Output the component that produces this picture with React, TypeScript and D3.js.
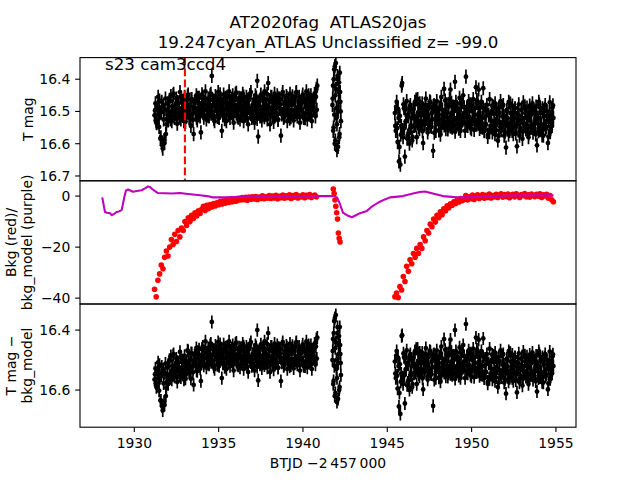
import React from 'react';
import * as d3 from 'd3';

const TITLE_1 = 'AT2020fag  ATLAS20jas';
const TITLE_2 = '19.247cyan_ATLAS Unclassified z= -99.0';
const SECTOR_LABEL = 's23 cam3ccd4';
const X_LABEL = 'BTJD \u22122\u2009457\u2009000';
const X_TICKS = [1930, 1935, 1940, 1945, 1950, 1955];
const TOP_TICKS = [16.4, 16.5, 16.6, 16.7];
const MID_TICKS = [0, -20, -40];
const BOT_TICKS = [16.4, 16.6];
const MARK_T = 1933.0;
const MAG_ERR = 0.022;

// observation windows (start, end) in BTJD; the "2" sets are the interleaved cadences
const SEG_A = [1931.2, 1940.85];
const SEG_A2 = [1931.227, 1940.823];
const SEG_B = [1941.75, 1942.25];
const SEG_B2 = [1941.765, 1942.235];
const SEG_C = [1945.45, 1954.85];
const SEG_C2 = [1945.477, 1954.823];
const BKG_SEG_A = [1931.2, 1940.8];
const BKG_SEG_B = [1941.8, 1942.2];
const BKG_SEG_C = [1945.45, 1954.85];

// T mag, orbit 1
const TOP_A = [
  16.512, 16.475, 16.535, 16.490, 16.455, 16.548, 16.505, 16.580, 16.470, 16.615, 16.525, 16.598, 16.460, 16.540, 16.495, 16.528,
  16.470, 16.515, 16.452, 16.530, 16.485, 16.445, 16.520, 16.498, 16.460, 16.538, 16.478, 16.505, 16.440, 16.525, 16.468, 16.512,
  16.490, 16.455, 16.532, 16.475, 16.500, 16.448, 16.520, 16.482, 16.545, 16.462, 16.508, 16.570, 16.472, 16.495, 16.450, 16.528,
  16.488, 16.458, 16.515, 16.565, 16.478,
  16.455, 16.510, 16.470, 16.438, 16.525, 16.492, 16.460, 16.515, 16.480, 16.445, 16.390, 16.505, 16.468, 16.530, 16.452, 16.498,
  16.475, 16.440, 16.520, 16.485, 16.460, 16.560, 16.495, 16.448, 16.512, 16.470, 16.530, 16.455, 16.490, 16.438, 16.520, 16.478,
  16.505, 16.450, 16.535, 16.465, 16.498, 16.442, 16.515, 16.480,
  16.458, 16.525, 16.470, 16.500, 16.445, 16.530, 16.475, 16.512, 16.455, 16.490, 16.540, 16.462, 16.505, 16.440, 16.520, 16.482,
  16.468, 16.535, 16.450, 16.498,
  16.405, 16.578, 16.472, 16.515, 16.448, 16.528, 16.460, 16.495, 16.438, 16.510, 16.480, 16.525, 16.412, 16.465, 16.540, 16.455,
  16.500, 16.470, 16.532, 16.445,
  16.512, 16.478, 16.450, 16.525, 16.490, 16.462, 16.575, 16.508, 16.440, 16.520, 16.472, 16.495, 16.452, 16.530, 16.468, 16.505,
  16.445, 16.518, 16.480, 16.458,
  16.528, 16.470, 16.500, 16.440, 16.515, 16.485, 16.455, 16.535, 16.475, 16.498, 16.448, 16.520, 16.465, 16.505, 16.438, 16.525,
  16.480, 16.460, 16.510, 16.450,
  16.530, 16.470, 16.495, 16.445, 16.515, 16.430, 16.420,
];
const TOP_A2 = [
  16.497, 16.528, 16.536, 16.488, 16.509, 16.466, 16.585, 16.502, 16.605, 16.483, 16.590, 16.494, 16.570, 16.524, 16.475, 16.514,
  16.464, 16.525, 16.504, 16.484, 16.449, 16.515, 16.492, 16.475, 16.523, 16.471, 16.497, 16.519, 16.456, 16.506, 16.489, 16.466,
  16.530, 16.501, 16.477, 16.511, 16.453, 16.495, 16.516, 16.481, 16.462, 16.507, 16.526, 16.486, 16.470, 16.498, 16.520, 16.458,
  16.503, 16.474, 16.514, 16.491, 16.447,
  16.503, 16.519, 16.478, 16.460, 16.495, 16.513, 16.473, 16.488, 16.450, 16.507, 16.500, 16.464, 16.522, 16.483, 16.456, 16.491,
  16.517, 16.467, 16.505, 16.447, 16.497, 16.480, 16.512, 16.471, 16.524, 16.458, 16.494, 16.475, 16.510, 16.452, 16.501, 16.487,
  16.462, 16.516, 16.477, 16.496, 16.445, 16.506, 16.482, 16.519, 16.468, 16.492, 16.459, 16.513, 16.499, 16.454, 16.485, 16.504,
  16.474, 16.521, 16.463, 16.490, 16.449, 16.508, 16.498, 16.479, 16.515, 16.466, 16.489, 16.457, 16.523, 16.472, 16.502, 16.484,
  16.451, 16.511, 16.495, 16.461, 16.518, 16.476, 16.500, 16.446, 16.507, 16.488, 16.469, 16.514, 16.455, 16.493, 16.520, 16.481,
  16.464, 16.503, 16.473, 16.526, 16.459, 16.491, 16.478, 16.509, 16.448, 16.497, 16.516, 16.470, 16.486, 16.458, 16.505, 16.482,
  16.522, 16.465, 16.496, 16.453, 16.512, 16.475, 16.501, 16.443, 16.507, 16.489, 16.467, 16.518, 16.479, 16.494, 16.456, 16.510,
  16.471, 16.521, 16.485, 16.462, 16.499, 16.450, 16.504, 16.483, 16.513, 16.474, 16.492, 16.460, 16.500, 16.455, 16.495,
];
const TOP_B = [16.48, 16.42, 16.55, 16.37, 16.60, 16.45, 16.35, 16.52, 16.62, 16.40, 16.50, 16.44, 16.58, 16.38, 16.47, 16.53];
const TOP_B2 = [16.46, 16.56, 16.40, 16.51, 16.36, 16.59, 16.43, 16.49, 16.54, 16.39, 16.61, 16.47, 16.41, 16.57, 16.44, 16.50];
// T mag, orbit 2
const TOP_C = [
  16.505, 16.560, 16.470, 16.595, 16.520, 16.610, 16.665, 16.545, 16.412, 16.580, 16.490, 16.640, 16.530, 16.468, 16.575, 16.515,
  16.600, 16.480, 16.550, 16.590,
  16.495, 16.545, 16.470, 16.528, 16.580, 16.462, 16.512, 16.555, 16.485, 16.535, 16.475, 16.598, 16.505, 16.540, 16.460, 16.520,
  16.565, 16.490, 16.530, 16.472,
  16.548, 16.502, 16.622, 16.480, 16.525, 16.560, 16.468, 16.515, 16.540, 16.488, 16.572, 16.455, 16.510, 16.535, 16.430, 16.498,
  16.555, 16.478, 16.520, 16.545,
  16.462, 16.432, 16.505, 16.550, 16.485, 16.528, 16.408, 16.470, 16.540, 16.495, 16.515, 16.458, 16.560, 16.480, 16.525, 16.450,
  16.505, 16.535, 16.392, 16.488,
  16.545, 16.468, 16.518, 16.478, 16.555, 16.500, 16.462, 16.530, 16.490, 16.425, 16.540, 16.475, 16.432, 16.512, 16.548,
  16.470, 16.520, 16.428, 16.555, 16.495, 16.540, 16.480, 16.572, 16.510, 16.462, 16.545, 16.500, 16.565, 16.485, 16.530, 16.475,
  16.558, 16.505, 16.590, 16.490,
  16.535, 16.468, 16.550, 16.515, 16.480, 16.575, 16.528, 16.612, 16.495, 16.545, 16.470, 16.560, 16.505, 16.535, 16.482, 16.570,
  16.520, 16.490, 16.548, 16.608,
  16.512, 16.478, 16.562, 16.530, 16.495, 16.585, 16.472, 16.540, 16.505, 16.555, 16.488, 16.525, 16.568, 16.482, 16.545, 16.510,
  16.475, 16.552, 16.500, 16.538,
  16.485, 16.605, 16.520, 16.470, 16.558, 16.505, 16.540, 16.490, 16.575, 16.515, 16.480, 16.548, 16.500, 16.598, 16.530, 16.472,
  16.555, 16.512, 16.488, 16.520,
];
const TOP_C2 = [
  16.545, 16.485, 16.552, 16.492, 16.655, 16.514, 16.572, 16.420, 16.558, 16.478, 16.551, 16.495, 16.530, 16.584, 16.509, 16.568,
  16.487, 16.543, 16.521, 16.580,
  16.493, 16.520, 16.543, 16.463, 16.535, 16.503, 16.549, 16.475, 16.529, 16.490, 16.561, 16.511, 16.540, 16.481, 16.516, 16.496,
  16.554, 16.530, 16.469, 16.545,
  16.506, 16.523, 16.483, 16.566, 16.500, 16.537, 16.489, 16.510, 16.559, 16.525, 16.477, 16.551, 16.495, 16.519, 16.543, 16.466,
  16.534, 16.504, 16.556, 16.485,
  16.527, 16.547, 16.473, 16.514, 16.536, 16.499, 16.563, 16.480, 16.520, 16.491, 16.553, 16.507, 16.531, 16.544, 16.470, 16.521,
  16.487, 16.560, 16.501, 16.539,
  16.515, 16.476, 16.533, 16.550, 16.483, 16.524, 16.494, 16.557, 16.511, 16.541, 16.465, 16.529, 16.505, 16.554, 16.486,
  16.533, 16.550, 16.489, 16.561, 16.518, 16.541, 16.496, 16.579, 16.512, 16.564, 16.524, 16.545, 16.482, 16.555, 16.508, 16.570,
  16.538, 16.494, 16.528, 16.576,
  16.504, 16.549, 16.558, 16.486, 16.534, 16.515, 16.565, 16.542, 16.499, 16.521, 16.572, 16.552, 16.476, 16.531, 16.560, 16.510,
  16.546, 16.490, 16.568, 16.540,
  16.505, 16.525, 16.575, 16.551, 16.495, 16.519, 16.562, 16.536, 16.484, 16.556, 16.514, 16.544, 16.580, 16.500, 16.529, 16.550,
  16.488, 16.566, 16.539, 16.506,
  16.571, 16.511, 16.532, 16.561, 16.479, 16.522, 16.548, 16.574, 16.498, 16.541, 16.492, 16.554, 16.530, 16.516, 16.578, 16.502,
  16.564, 16.526, 16.545, 16.481,
];

// T mag - bkg_model
const DET_A = [
  16.565, 16.528, 16.590, 16.545, 16.508, 16.602, 16.560, 16.635, 16.522, 16.668, 16.578, 16.650, 16.512, 16.592, 16.548, 16.580,
  16.505, 16.550, 16.487, 16.565, 16.520, 16.480, 16.555, 16.533, 16.495, 16.573, 16.511, 16.538, 16.473, 16.558, 16.500, 16.544,
  16.521, 16.486, 16.562, 16.504,
  16.525, 16.470, 16.540, 16.500, 16.562, 16.478, 16.522, 16.583, 16.484, 16.506, 16.460, 16.537, 16.495, 16.464, 16.520, 16.570,
  16.482,
  16.455, 16.510, 16.470, 16.438, 16.525, 16.492, 16.460, 16.515, 16.480, 16.445, 16.373, 16.505, 16.468, 16.530, 16.452, 16.498,
  16.475, 16.440, 16.520, 16.485, 16.460, 16.560, 16.495, 16.448, 16.512, 16.470, 16.530, 16.455, 16.490, 16.438, 16.520, 16.478,
  16.505, 16.450, 16.535, 16.465, 16.498, 16.442, 16.515, 16.480,
  16.458, 16.525, 16.470, 16.500, 16.445, 16.530, 16.475, 16.512, 16.455, 16.490, 16.540, 16.462, 16.505, 16.440, 16.520, 16.482,
  16.468, 16.535, 16.450, 16.498,
  16.400, 16.568, 16.472, 16.515, 16.448, 16.528, 16.460, 16.495, 16.438, 16.510, 16.480, 16.525, 16.410, 16.465, 16.540, 16.455,
  16.500, 16.470, 16.532, 16.445,
  16.512, 16.478, 16.450, 16.525, 16.490, 16.462, 16.570, 16.508, 16.440, 16.520, 16.472, 16.495, 16.452, 16.530, 16.468, 16.505,
  16.445, 16.518, 16.480, 16.458,
  16.528, 16.470, 16.500, 16.440, 16.515, 16.485, 16.455, 16.535, 16.475, 16.498, 16.448, 16.520, 16.465, 16.505, 16.438, 16.525,
  16.480, 16.460, 16.510, 16.450,
  16.530, 16.470, 16.495, 16.445, 16.515, 16.430, 16.425,
];
// first 53 interleaved cadences of orbit 1 differ from T mag; later ones coincide with TOP_A2
const DET_A2_HEAD = [
  16.547, 16.578, 16.586, 16.538, 16.559, 16.516, 16.635, 16.552, 16.655, 16.533, 16.640, 16.544, 16.620, 16.574, 16.525, 16.564,
  16.499, 16.560, 16.539, 16.519, 16.484, 16.550, 16.527, 16.510, 16.558, 16.506, 16.532, 16.554, 16.491, 16.541, 16.524, 16.501,
  16.565, 16.536, 16.512, 16.546,
  16.468, 16.510, 16.531, 16.496, 16.477, 16.522, 16.541, 16.501, 16.485, 16.513, 16.535, 16.473, 16.518, 16.489, 16.529, 16.506,
  16.462,
];
const DET_A2 = [...DET_A2_HEAD, ...TOP_A2.slice(DET_A2_HEAD.length)];
const DET_B = [16.50, 16.43, 16.57, 16.37, 16.62, 16.46, 16.35, 16.53, 16.64, 16.41, 16.51, 16.45, 16.60, 16.39, 16.48, 16.55];
const DET_B2 = [16.47, 16.58, 16.41, 16.52, 16.36, 16.61, 16.44, 16.50, 16.56, 16.39, 16.63, 16.48, 16.42, 16.59, 16.45, 16.51];
const DET_C = [
  16.505, 16.560, 16.470, 16.595, 16.520, 16.610, 16.680, 16.545, 16.417, 16.580, 16.490, 16.645, 16.530, 16.468, 16.575, 16.515,
  16.600, 16.480, 16.550, 16.590,
  16.495, 16.545, 16.470, 16.528, 16.580, 16.462, 16.512, 16.555, 16.485, 16.535, 16.475, 16.598, 16.505, 16.540, 16.460, 16.520,
  16.565, 16.490, 16.530, 16.472,
  16.548, 16.502, 16.653, 16.480, 16.525, 16.560, 16.468, 16.515, 16.540, 16.488, 16.572, 16.455, 16.510, 16.535, 16.430, 16.498,
  16.555, 16.478, 16.520, 16.545,
  16.462, 16.432, 16.505, 16.550, 16.485, 16.528, 16.400, 16.470, 16.540, 16.495, 16.515, 16.458, 16.560, 16.480, 16.525, 16.450,
  16.505, 16.535, 16.380, 16.488,
  16.545, 16.468, 16.518, 16.478, 16.555, 16.500, 16.462, 16.530, 16.490, 16.425, 16.540, 16.475, 16.432, 16.512, 16.548,
  16.470, 16.520, 16.428, 16.555, 16.495, 16.540, 16.480, 16.572, 16.510, 16.462, 16.545, 16.500, 16.565, 16.485, 16.530, 16.475,
  16.558, 16.505, 16.590, 16.490,
  16.535, 16.468, 16.550, 16.515, 16.480, 16.575, 16.528, 16.612, 16.495, 16.545, 16.470, 16.560, 16.505, 16.535, 16.482, 16.570,
  16.520, 16.490, 16.548, 16.608,
  16.512, 16.478, 16.562, 16.530, 16.495, 16.585, 16.472, 16.540, 16.505, 16.555, 16.488, 16.525, 16.568, 16.482, 16.545, 16.510,
  16.475, 16.552, 16.500, 16.538,
  16.485, 16.605, 16.520, 16.470, 16.558, 16.505, 16.540, 16.490, 16.575, 16.515, 16.480, 16.548, 16.500, 16.598, 16.530, 16.472,
  16.555, 16.512, 16.488, 16.520,
];
// orbit-2 interleaved cadences: detrended values coincide with T mag at this resolution
const DET_C2 = [...TOP_C2];

// Background (red), one value every 0.1 d
const BKG_A = [
  -36.5, -39.5, -33.0, -30.5, -27.0, -28.5, -24.0, -21.5,
  -23.5, -20.0, -17.0, -19.0, -15.0, -17.8, -13.5, -16.0, -12.5, -13.5,
  -10.0, -11.5, -8.5, -10.0, -7.5, -8.8, -6.5, -7.8, -5.8, -6.8,
  -5.2, -4.0, -5.6, -3.6, -4.9, -3.3, -4.3, -2.9, -3.9, -2.6,
  -3.4, -2.0, -3.1, -1.8, -2.8, -1.5, -2.5, -1.4, -2.2, -1.1,
  -2.0,
  -1.8, -0.9, -1.5, -0.6, -1.4, -0.5, -1.6, -0.4, -1.2, -0.3,
  -1.1, -0.2, -1.3, -0.4, -0.9, 0.1, -1.0, -0.3, -0.8, 0.2,
  -0.9, 0.0, -0.7, 0.3, -1.0, -0.1, -0.6, 0.4, -0.8, 0.1,
  -0.5, 0.5, -0.9, 0.2, -0.4, 0.6, -0.7, 0.0, -0.3, 0.5,
  -0.6, 0.3, -0.2, 0.6, -0.5, 0.1, 0.4, -0.3,
];
const BKG_B = [2.8, 1.0, -1.5, -4.0, -6.5, -9.0, -14.5, -16.5, -18.0];
const BKG_C = [
  -39.5, -38.0, -39.8, -35.5, -36.8, -31.5, -33.5, -27.5, -29.5, -25.0,
  -26.5, -22.5, -24.0, -20.5, -22.5, -19.0, -20.5, -16.0, -17.5, -13.5,
  -14.5, -11.0, -12.0, -9.0, -10.2, -7.5, -8.5, -6.2, -7.3, -5.0,
  -5.8, -3.8, -4.6, -3.0, -3.6, -2.2, -2.9, -1.5, -2.3, -1.0, -1.8,
  -1.2, 0.2, -1.5, -0.3, -1.0, 0.4, -1.3, -0.2, 0.5, -0.9,
  -0.4, 0.6, -0.8, 0.3, -0.5, 0.8, -0.7, 0.2, -0.3, 0.7,
  -0.5, 0.4, 0.9, -0.4, 0.6, -0.2, 0.8, -0.6, 0.3, 0.7,
  -0.3, 0.9, 0.1, -0.5, 0.6, 0.2, 1.0, -0.3, 0.5, -0.4,
  0.8, 0.2, -0.2, 0.7, 0.0, 0.9, -0.5, 0.5, 0.1, 0.7,
  -0.8, 0.2, -1.4, -2.2,
];

// Background model (purple)
const MODEL_T = [
  1928.10, 1928.17, 1928.26, 1928.38, 1928.56, 1928.66, 1928.80, 1928.96, 1929.09, 1929.25,
  1929.33, 1929.42, 1929.51, 1929.63, 1929.92, 1930.16, 1930.44, 1930.63, 1930.81, 1930.93,
  1931.11, 1931.40, 1931.82, 1932.23, 1932.71, 1933.06, 1933.48, 1933.89, 1934.31, 1934.66,
  1935.37, 1936.26, 1937.45, 1939.23, 1941.01, 1941.84, 1942.02, 1942.19, 1942.37, 1942.61,
  1942.90, 1943.14, 1943.38, 1943.79, 1944.15, 1944.56, 1944.86, 1945.16, 1945.93, 1946.52,
  1946.93, 1947.23, 1947.70, 1948.30, 1949.13, 1949.90, 1950.91, 1952.86, 1954.85,
];
const MODEL_V = [
  -0.5, -3, -6.2, -6.5, -6.7, -7.5, -7, -6.2, -6, -5.5,
  -3, 0, 2.2, 2.6, 1.7, 2.0, 2.3, 3.0, 3.8, 3.6,
  2.5, 1.2, 1.1, 1.0, 1.2, 0.9, 0.6, 0.3, 0, -0.5,
  -0.5, -0.3, -0.2, -0.1, 0, 0, -0.5, -3, -6.5, -7.5,
  -8.3, -7.5, -6.7, -5.8, -3.8, -2.2, -1.3, -0.5, 0, 1,
  1.6, 1.8, 1.0, 0, -0.5, -0.5, 0, 0.3, 0.3,
];

type Pt = { t: number; v: number };

function cadence(seg: number[], vals: number[]): Pt[] {
  const n = vals.length;
  return vals.map((v, i) => ({ t: seg[0] + ((seg[1] - seg[0]) * i) / (n - 1), v }));
}

const FONT = 'DejaVu Sans, Liberation Sans, sans-serif';
const L = 80;
const R = 576;
const PY = [57.6, 180.8, 304, 427.2];
const TICK = 4.86;

export default function App() {
  const x = d3.scaleLinear().domain([1926.78, 1956.19]).range([L, R]);
  const yTop = d3.scaleLinear().domain([16.333, 16.715]).range([PY[0], PY[1]]);
  const yMid = d3.scaleLinear().domain([6.0, -42.3]).range([PY[1], PY[2]]);
  const yBot = d3.scaleLinear().domain([16.313, 16.724]).range([PY[2], PY[3]]);

  const topPts = [
    ...cadence(SEG_A, TOP_A), ...cadence(SEG_A2, TOP_A2),
    ...cadence(SEG_B, TOP_B), ...cadence(SEG_B2, TOP_B2),
    ...cadence(SEG_C, TOP_C), ...cadence(SEG_C2, TOP_C2),
  ];
  const detPts = [
    ...cadence(SEG_A, DET_A), ...cadence(SEG_A2, DET_A2),
    ...cadence(SEG_B, DET_B), ...cadence(SEG_B2, DET_B2),
    ...cadence(SEG_C, DET_C), ...cadence(SEG_C2, DET_C2),
  ];
  const bkgPts = [...cadence(BKG_SEG_A, BKG_A), ...cadence(BKG_SEG_B, BKG_B), ...cadence(BKG_SEG_C, BKG_C)];
  const modelPts: Pt[] = MODEL_T.map((t, i) => ({ t, v: MODEL_V[i] }));

  const modelLine = d3
    .line<Pt>()
    .x((d) => x(d.t))
    .y((d) => yMid(d.v))(modelPts) as string;

  const errPath = (pts: Pt[], y: d3.ScaleLinear<number, number>) =>
    pts.map((p) => `M${x(p.t).toFixed(2)},${y(p.v - MAG_ERR).toFixed(2)}V${y(p.v + MAG_ERR).toFixed(2)}`).join('');

  const ErrPanel = ({ pts, y, clip }: { pts: Pt[]; y: d3.ScaleLinear<number, number>; clip: string }) => (
    <g clipPath={`url(#${clip})`}>
      <path d={errPath(pts, y)} stroke="#000" strokeWidth={1.7} fill="none" />
      {pts.map((p, i) => (
        <circle key={i} cx={x(p.t)} cy={y(p.v)} r={2.4} fill="#000" />
      ))}
    </g>
  );

  const YAxis = ({ ticks, y, fmt }: { ticks: number[]; y: d3.ScaleLinear<number, number>; fmt: (v: number) => string }) => (
    <g>
      {ticks.map((t) => (
        <g key={t}>
          <line x1={L} x2={L - TICK} y1={y(t)} y2={y(t)} stroke="#000" strokeWidth={1.1} />
          <text x={L - 2 * TICK} y={y(t)} dy="0.36em" textAnchor="end" fontSize={13.9} fontFamily={FONT} fill="#000">
            {fmt(t)}
          </text>
        </g>
      ))}
    </g>
  );

  const fmtMag = (v: number) => v.toFixed(1);
  const fmtInt = (v: number) => (v < 0 ? '\u2212' + Math.abs(v) : String(v));

  const panelH = PY[1] - PY[0];

  return (
    <svg width={640} height={480} style={{ position: 'absolute', left: 0, top: 0, background: '#fff' }}>
      <defs>
        {[0, 1, 2].map((k) => (
          <clipPath id={`clip${k}`} key={k}>
            <rect x={L} y={PY[k]} width={R - L} height={panelH} />
          </clipPath>
        ))}
      </defs>
      <rect x={0} y={0} width={640} height={480} fill="#fff" />

      {/* titles */}
      <text x={328} y={28} textAnchor="middle" fontSize={16.7} fontFamily={FONT} style={{ whiteSpace: 'pre' }}>
        {TITLE_1}
      </text>
      <text x={328} y={48} textAnchor="middle" fontSize={16.7} fontFamily={FONT}>
        {TITLE_2}
      </text>

      {/* top panel */}
      <ErrPanel pts={topPts} y={yTop} clip="clip0" />
      <line
        x1={x(MARK_T)}
        x2={x(MARK_T)}
        y1={PY[0]}
        y2={PY[1]}
        stroke="#ff0000"
        strokeWidth={2.08}
        strokeDasharray="7.7 3.3"
      />
      <text x={105} y={70} fontSize={16.7} fontFamily={FONT}>
        {SECTOR_LABEL}
      </text>

      {/* middle panel */}
      <g clipPath="url(#clip1)">
        {bkgPts.map((p, i) => (
          <circle key={i} cx={x(p.t)} cy={yMid(p.v)} r={2.8} fill="#ff0000" />
        ))}
        <path d={modelLine} stroke="#bf00bf" strokeWidth={2.08} fill="none" strokeLinejoin="round" />
      </g>

      {/* bottom panel */}
      <ErrPanel pts={detPts} y={yBot} clip="clip2" />

      {/* frames */}
      {[0, 1, 2].map((k) => (
        <rect key={k} x={L} y={PY[k]} width={R - L} height={panelH} fill="none" stroke="#000" strokeWidth={1.1} />
      ))}

      <YAxis ticks={TOP_TICKS} y={yTop} fmt={fmtMag} />
      <YAxis ticks={MID_TICKS} y={yMid} fmt={fmtInt} />
      <YAxis ticks={BOT_TICKS} y={yBot} fmt={fmtMag} />

      {/* x axis */}
      {X_TICKS.map((t) => (
        <g key={t}>
          <line x1={x(t)} x2={x(t)} y1={PY[3]} y2={PY[3] + TICK} stroke="#000" strokeWidth={1.1} />
          <text x={x(t)} y={448} textAnchor="middle" fontSize={13.9} fontFamily={FONT}>
            {t}
          </text>
        </g>
      ))}
      <text x={328} y={468} textAnchor="middle" fontSize={13.9} fontFamily={FONT}>
        {X_LABEL}
      </text>

      {/* y labels */}
      <text transform={`translate(33,${(PY[0] + PY[1]) / 2}) rotate(-90)`} textAnchor="middle" fontSize={13.9} fontFamily={FONT}>
        T mag
      </text>
      <text transform={`translate(16,${(PY[1] + PY[2]) / 2}) rotate(-90)`} textAnchor="middle" fontSize={13.9} fontFamily={FONT}>
        Bkg (red)/
      </text>
      <text transform={`translate(32,${(PY[1] + PY[2]) / 2}) rotate(-90)`} textAnchor="middle" fontSize={13.9} fontFamily={FONT}>
        bkg_model (purple)
      </text>
      <text transform={`translate(16,${(PY[2] + PY[3]) / 2}) rotate(-90)`} textAnchor="middle" fontSize={13.9} fontFamily={FONT}>
        T mag {'\u2212'}
      </text>
      <text transform={`translate(32,${(PY[2] + PY[3]) / 2}) rotate(-90)`} textAnchor="middle" fontSize={13.9} fontFamily={FONT}>
        bkg_model
      </text>
    </svg>
  );
}
